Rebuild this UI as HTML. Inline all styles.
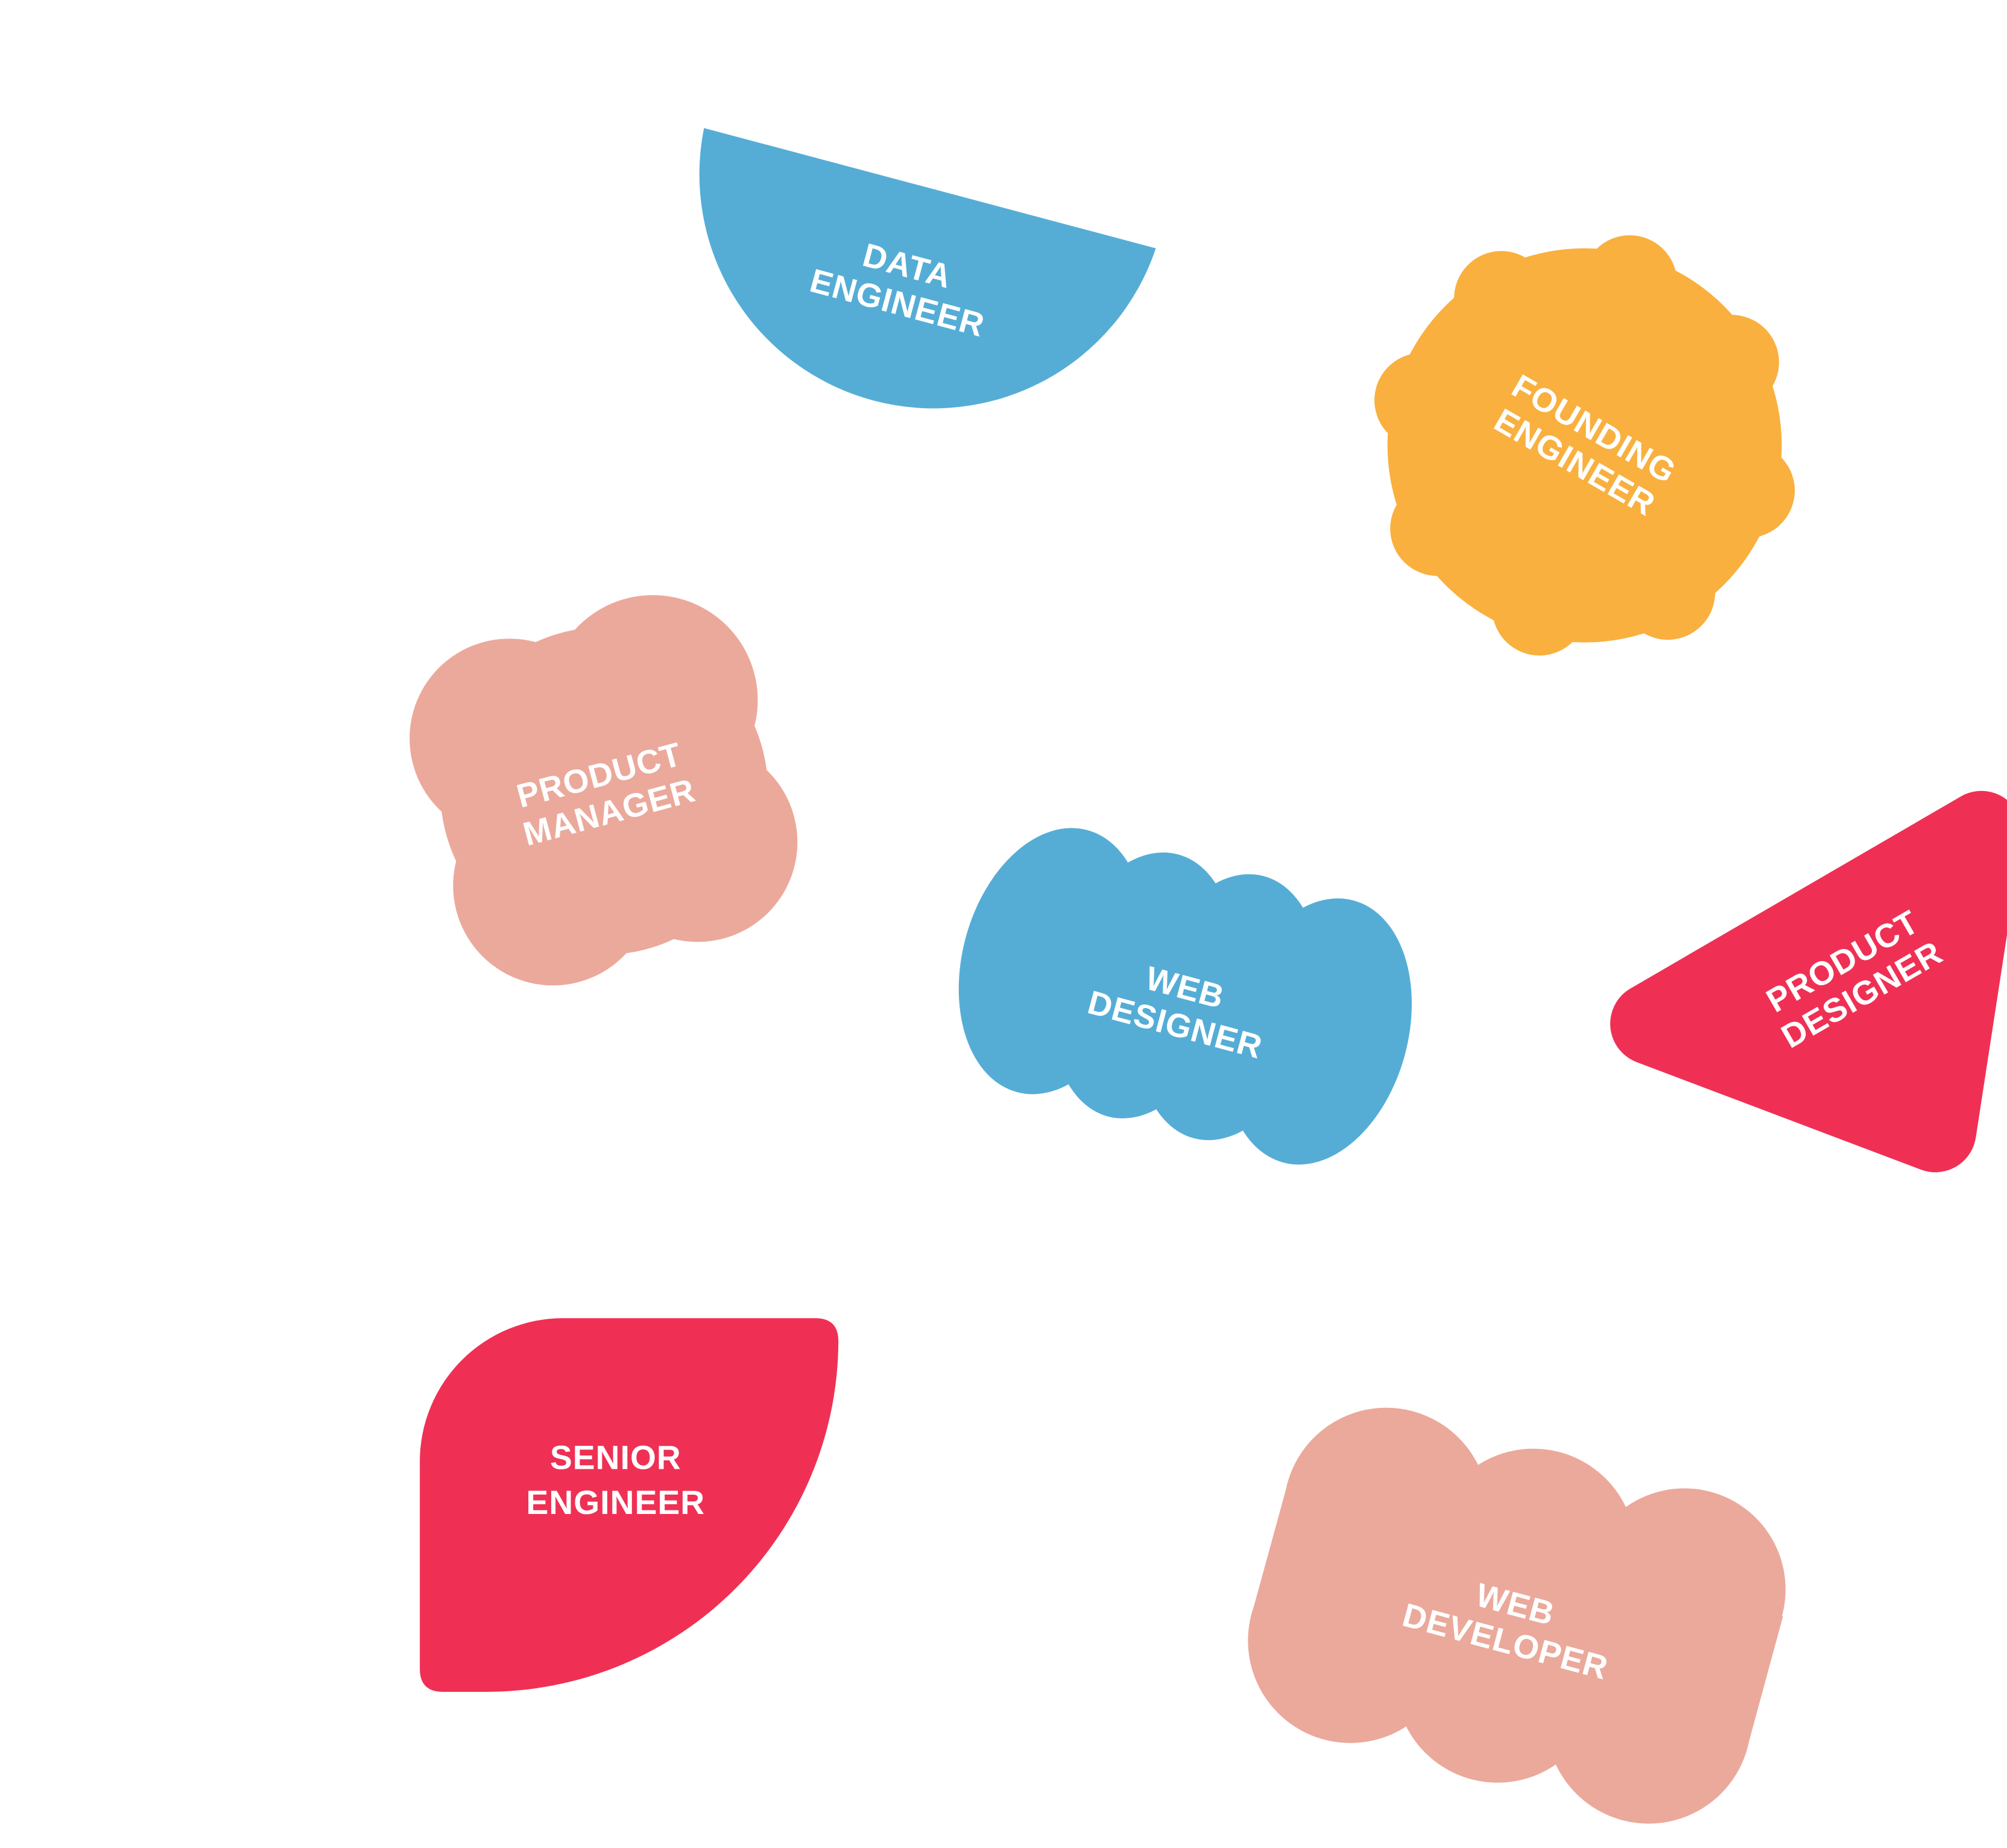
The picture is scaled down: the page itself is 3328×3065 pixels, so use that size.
<!DOCTYPE html>
<html><head><meta charset="utf-8"><style>
html,body{margin:0;padding:0;background:#fff;}
svg{display:block;}
text{font-family:"Liberation Sans",sans-serif;font-weight:bold;fill:#fff;font-size:26px;letter-spacing:0.5px;text-anchor:middle;}
</style></head><body>
<svg width="3328" height="3065" viewBox="0 0 1568 1444" xmlns="http://www.w3.org/2000/svg">
<rect width="1568" height="1444" fill="#fff"/>

<!-- Data engineer -->
<path d="M550,100 L903,194 A183,183 0 0 1 550,100 Z" fill="#55ADD6"/>
<g transform="translate(705,222) rotate(15)">
<text x="0" y="-6">DATA</text><text x="0" y="24">ENGINEER</text></g>

<!-- Founding engineer -->
<g fill="#F9B03E" transform="translate(1238,348)">
<circle r="154"/>
<g transform="rotate(-74.5)">
<circle cx="132" cy="0" r="37"/>
<circle cx="132" cy="0" r="37" transform="rotate(45)"/>
<circle cx="132" cy="0" r="37" transform="rotate(90)"/>
<circle cx="132" cy="0" r="37" transform="rotate(135)"/>
<circle cx="132" cy="0" r="37" transform="rotate(180)"/>
<circle cx="132" cy="0" r="37" transform="rotate(225)"/>
<circle cx="132" cy="0" r="37" transform="rotate(270)"/>
<circle cx="132" cy="0" r="37" transform="rotate(315)"/>
</g></g>
<g transform="translate(1238,348) rotate(30)">
<text x="0" y="-6">FOUNDING</text><text x="0" y="24">ENGINEER</text></g>

<!-- Product manager -->
<g fill="#EBA99B">
<circle cx="472" cy="618" r="128"/>
<circle cx="398" cy="577" r="78"/>
<circle cx="510" cy="547" r="82"/>
<circle cx="545" cy="658" r="78"/>
<circle cx="432" cy="692" r="78"/>
</g>
<g transform="translate(472,620) rotate(-15)">
<text x="0" y="-6">PRODUCT</text><text x="0" y="24">MANAGER</text></g>

<!-- Web designer -->
<g fill="#55ADD6">
<ellipse cx="822" cy="751" rx="70" ry="106" transform="rotate(15 822 751)"/>
<ellipse cx="893" cy="770" rx="68" ry="106" transform="rotate(15 893 770)"/>
<ellipse cx="960" cy="787" rx="68" ry="106" transform="rotate(15 960 787)"/>
<ellipse cx="1030" cy="806" rx="70" ry="106" transform="rotate(15 1030 806)"/>
</g>
<g transform="translate(922,786) rotate(15)">
<text x="0" y="-6">WEB</text><text x="0" y="24">DESIGNER</text></g>

<!-- Product designer -->
<polygon points="1290,800 1548,650 1512,884" fill="#EF3054" stroke="#EF3054" stroke-width="64" stroke-linejoin="round"/>
<g transform="translate(1447,764) rotate(-30)">
<text x="0" y="-6">PRODUCT</text><text x="0" y="24">DESIGNER</text></g>

<!-- Senior engineer -->
<path d="M440,1030 H637 Q655,1030 655,1048 A275,275 0 0 1 380,1322 H346 Q328,1322 328,1304 V1142 A112,112 0 0 1 440,1030 Z" fill="#EF3054"/>
<text x="481" y="1148">SENIOR</text>
<text x="481" y="1183">ENGINEER</text>

<!-- Web developer -->
<g fill="#EBA99B">
<polygon points="1006,1159 1083,1180 1316,1242 1393,1263 1365,1366 1288,1345 1055,1282 978,1261"/>
<circle cx="1083" cy="1180" r="80"/>
<circle cx="1198" cy="1212" r="80"/>
<circle cx="1316" cy="1242" r="79"/>
<circle cx="1055" cy="1282" r="80"/>
<circle cx="1170" cy="1313" r="80"/>
<circle cx="1288" cy="1345" r="80"/>
</g>
<g transform="translate(1180,1268) rotate(15)">
<text x="0" y="-6">WEB</text><text x="0" y="24">DEVELOPER</text></g>
</svg>
</body></html>
